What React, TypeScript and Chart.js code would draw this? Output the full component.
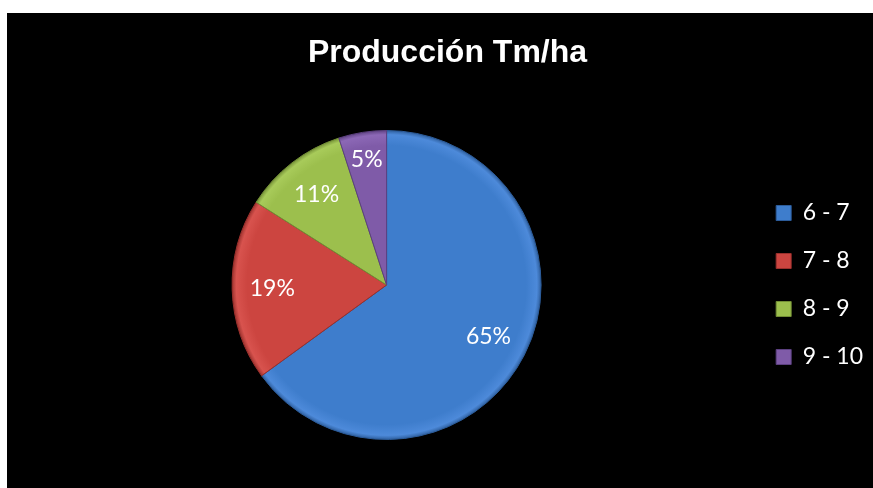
import React, { useEffect, useRef } from "react";
import { Chart, registerables } from "chart.js";

Chart.register(...registerables);

const TITLE = "Producción Tm/ha";
const CATEGORIES = ["6 - 7", "7 - 8", "8 - 9", "9 - 10"];
const VALUES = [65, 19, 11, 5];
const COLORS = ["#3E7DCC", "#CC4540", "#9CBF4D", "#7F5BA8"];
const DARK = ["#2C5C9A", "#9A302C", "#728E35", "#5C4080"];
const LIGHT = ["#4D8ADA", "#D8534E", "#A8CB5A", "#8C68B6"];

const labelPlugin = {
  id: "sliceLabels",
  afterDatasetsDraw(chart: any) {
    const ctx = chart.ctx;
    const meta = chart.getDatasetMeta(0);
    const data = chart.data.datasets[0].data as number[];
    const total = data.reduce((a, b) => a + b, 0);
    ctx.save();
    ctx.fillStyle = "#ffffff";
    ctx.font = "23px Lato";
    ctx.textAlign = "center";
    ctx.textBaseline = "middle";
    meta.data.forEach((arc: any, i: number) => {
      const p = arc.getProps(["startAngle", "endAngle", "x", "y", "outerRadius"], true);
      const mid = (p.startAngle + p.endAngle) / 2;
      const f = p.endAngle - p.startAngle < 0.5 ? 0.82 : 0.74;
      const x = p.x + Math.cos(mid) * p.outerRadius * f;
      const y = p.y + Math.sin(mid) * p.outerRadius * f;
      ctx.fillText(Math.round((data[i] / total) * 100) + "%", x, y);
    });
    ctx.restore();
  },
};

export default function App() {
  const ref = useRef<HTMLCanvasElement>(null);
  useEffect(() => {
    if (!ref.current) return;
    const chart = new Chart(ref.current, {
      type: "pie",
      data: {
        labels: CATEGORIES,
        datasets: [
          {
            data: VALUES,
            backgroundColor: (c: any) => {
              const i = c.dataIndex ?? 0;
              const area = c.chart.chartArea;
              if (!area) return COLORS[i];
              const cx = (area.left + area.right) / 2;
              const cy = (area.top + area.bottom) / 2;
              const r = Math.min(area.right - area.left, area.bottom - area.top) / 2;
              const g = c.chart.ctx.createRadialGradient(cx, cy, 0, cx, cy, r);
              g.addColorStop(0, COLORS[i]);
              g.addColorStop(0.9, COLORS[i]);
              g.addColorStop(0.97, LIGHT[i]);
              g.addColorStop(1, DARK[i]);
              return g;
            },
            borderColor: DARK,
            borderWidth: 1,
          },
        ],
      },
      options: {
        responsive: false,
        animation: false,
        layout: { padding: { left: 15, right: 0, top: 0, bottom: 48 } },
        plugins: {
          title: {
            display: true,
            text: TITLE,
            color: "#ffffff",
            font: { family: "'Liberation Sans', Arial, sans-serif", size: 32, weight: "bold" },
            padding: { top: 21, bottom: 57.6 },
          },
          legend: {
            position: "right",
            fullSize: false,
            labels: {
              color: "#ffffff",
              font: { family: "Lato", size: 23 },
              boxWidth: 15,
              boxHeight: 15,
              padding: 25,
              generateLabels: () =>
                CATEGORIES.map((t, i) => ({
                  text: t,
                  fillStyle: COLORS[i],
                  strokeStyle: DARK[i],
                  lineWidth: 1,
                  fontColor: "#ffffff",
                  hidden: false,
                  index: i,
                })),
            },
          },
          tooltip: { enabled: false },
        },
      },
      plugins: [labelPlugin],
    });
    return () => chart.destroy();
  }, []);
  return (
    <div
      style={{
        position: "absolute",
        left: 7,
        top: 13,
        width: 866,
        height: 475,
        background: "#000000",
      }}
    >
      <canvas ref={ref} width={866} height={475} style={{ display: "block" }} />
    </div>
  );
}
